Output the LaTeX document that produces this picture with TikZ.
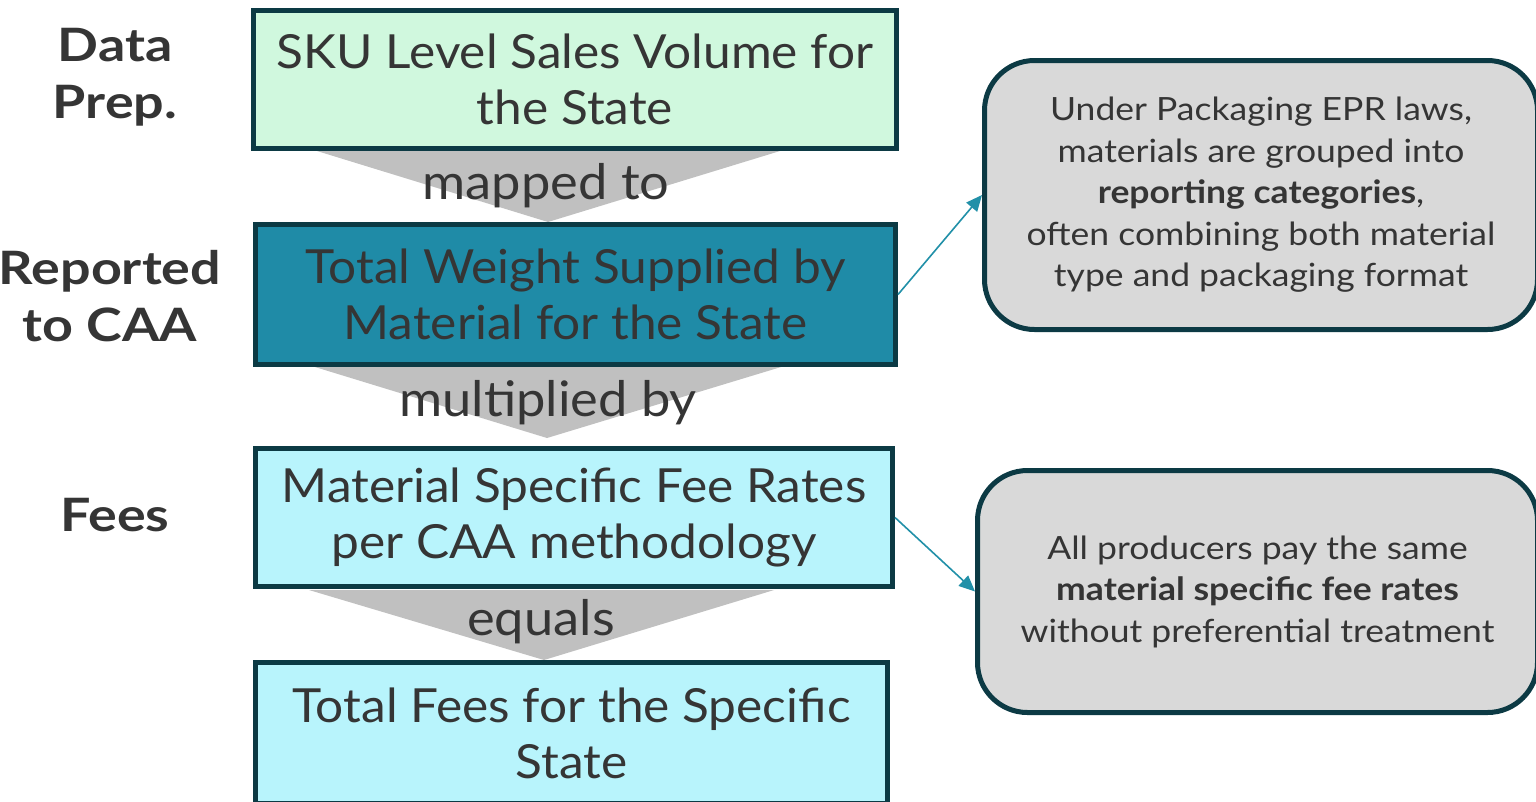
\documentclass[tikz,border=0pt]{standalone}
\usepackage{fontspec}
\setmainfont{Lato}
\newfontfamily\boxfont[FakeStretch=1.055]{Lato}
\newfontfamily\verbfont[FakeStretch=1.07]{Lato}
\newfontfamily\notefont[FakeStretch=1.11]{Lato}
\newfontfamily\phasefont[FakeStretch=1.17]{Lato}
\usetikzlibrary{arrows.meta}
\definecolor{edge}{HTML}{0C3A44}
\definecolor{greenfill}{HTML}{D0F8DE}
\definecolor{tealfill}{HTML}{1F8BA7}
\definecolor{cyanfill}{HTML}{B8F4FC}
\definecolor{funnel}{HTML}{C0C0C0}
\definecolor{notefill}{HTML}{D9D9D9}
\definecolor{txt}{HTML}{353535}
\definecolor{arrowc}{HTML}{2190A8}
\begin{document}
\begin{tikzpicture}[x=1pt,y=-1pt,
  stepbox/.style={draw=edge, line width=5pt, text=txt, align=center,
    font=\boxfont\fontsize{47}{56}\selectfont, inner sep=0pt},
  note/.style={draw=edge, line width=5pt, fill=notefill, rounded corners=50pt,
    text=txt, align=center, font=\notefont\fontsize{32}{41.5}\selectfont, inner sep=0pt},
  verb/.style={text=txt, font=\verbfont\fontsize{49}{56}\selectfont, inner sep=0pt, anchor=base},
  phase/.style={text=txt, font=\phasefont\bfseries\fontsize{46}{57}\selectfont, align=center, inner sep=0pt},
  link/.style={draw=arrowc, line width=1.6pt, -{Triangle[length=16pt,width=14pt]}}]
\useasboundingbox (0,0) rectangle (1536,801);
\clip (0,0) rectangle (1536,801);
\fill[white] (0,0) rectangle (1536,801);

% funnels
\fill[funnel] (317,151) -- (780,151) -- (548,222) -- cycle;
\fill[funnel] (315,367) -- (781,367) -- (547,438) -- cycle;
\fill[funnel] (309,590) -- (774,590) -- (544,660) -- cycle;

% step boxes
\node[stepbox, fill=greenfill, minimum width=643pt, minimum height=138pt] (sku) at (575,79.5)
  {SKU Level Sales Volume for\\the State};
\node[stepbox, fill=tealfill, minimum width=640pt, minimum height=140pt] (weight) at (575.5,294.5)
  {Total Weight Supplied by\\Material for the State};
\node[stepbox, fill=cyanfill, minimum width=637pt, minimum height=138pt] (rates) at (574,517.5)
  {Material Specific Fee Rates\\per CAA methodology};
\node[stepbox, fill=cyanfill, minimum width=632pt, minimum height=141pt] (total) at (571.5,733)
  {Total Fees for the Specific\\State};

% funnel labels
\node[verb] (l1) at (546,199) {mapped to};
\node[verb] (l2) at (548,416) {multiplied by};
\node[verb] (l3) at (541,635) {equals};

% phase labels
\node[phase] (p1) at (115,77) {Data\\Prep.};
\node[phase] (p2) at (110,296) {Reported\\to CAA};
\node[phase] (p3) at (115,515) {Fees};

% notes
\node[note, minimum width=553pt, minimum height=269pt] (n1) at (1261,195)
  {Under Packaging EPR laws,\\materials are grouped into\\\textbf{reporting categories},\\often combining both material\\type and packaging format};
\node[note, minimum width=560pt, minimum height=242pt] (n2) at (1257.5,591.5)
  {All producers pay the same\\\textbf{material specific fee rates}\\without preferential treatment};

% links
\draw[link] (weight.east) -- (n1.west);
\draw[link] (rates.east) -- (n2.west);
\end{tikzpicture}
\end{document}
